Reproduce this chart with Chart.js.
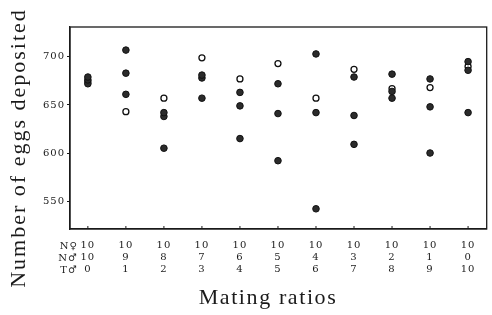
<!DOCTYPE html>
<html>
<head>
<meta charset="utf-8">
<script src="https://cdn.jsdelivr.net/npm/chart.js@4.4.0/dist/chart.umd.min.js"></script>
<style>
  html, body { margin: 0; padding: 0; background: #fff; }
</style>
</head>
<body>
<canvas id="chart" width="492" height="315"></canvas>
<script>
// --- DATA ---
// mating ratio columns, x = column index 0..10
const femalesN = [10, 10, 10, 10, 10, 10, 10, 10, 10, 10, 10];
const malesN = [10, 9, 8, 7, 6, 5, 4, 3, 2, 1, 0];
const malesT = [0, 1, 2, 3, 4, 5, 6, 7, 8, 9, 10];
const rowLabels = ['N\u2640', 'N\u2642', 'T\u2642'];

// number of eggs deposited
const openEggs   = [674, 643, 657, 699, 677, 693, 657, 687, 667, 668, 690];
const filledHigh = [679, 707, 642, 681, 663, 672, 703, 679, 682, 677, 695];
const filledMid  = [676, 683, 638, 678, 649, 641, 642, 639, 664, 648, 686];
const filledLow  = [672, 661, 605, 657, 615, 592, 542, 609, 657, 600, 642];

const yTicks = [550, 600, 650, 700];

const INK = '#1a1a1a';
const TICK_FONT = { family: 'DejaVu Serif', size: 10 };
const TITLE_FONT = '22px "Liberation Serif"';

function toPoints(arr) {
    return arr.map((v, i) => ({ x: i, y: v }));
}

function filledSet(arr) {
    return {
        data: toPoints(arr),
        pointRadius: 3.3,
        pointBorderWidth: 1,
        pointBackgroundColor: '#2b2b2b',
        pointBorderColor: '#111',
        showLine: false,
        order: 1
    };
}

// frame, inward x ticks, row labels and axis titles
const framePlugin = {
    id: 'frame',
    beforeDraw(chart) {
        chart.ctx.letterSpacing = '1px';
    },
    afterDraw(chart) {
        const { ctx, chartArea: a, scales: { x } } = chart;
        ctx.save();
        ctx.strokeStyle = INK;
        ctx.lineWidth = 1.3;
        ctx.strokeRect(a.left, a.top, a.right - a.left, a.bottom - a.top);
        ctx.beginPath();
        x.ticks.forEach(t => {
            const px = x.getPixelForValue(t.value);
            ctx.moveTo(px, a.bottom);
            ctx.lineTo(px, a.bottom - 3);
        });
        ctx.lineWidth = 1;
        ctx.stroke();

        ctx.fillStyle = INK;
        ctx.letterSpacing = '1px';
        ctx.font = TICK_FONT.size + 'px "' + TICK_FONT.family + '"';
        ctx.textAlign = 'right';
        ctx.textBaseline = 'middle';
        const x0 = x.getPixelForValue(0) - 10;
        rowLabels.forEach((lab, i) => {
            ctx.fillText(lab, x0, 246 + i * 12);
        });

        ctx.font = TITLE_FONT;
        ctx.textAlign = 'center';
        ctx.letterSpacing = '1.6px';
        ctx.fillText('Mating ratios', 268, 298);

        ctx.translate(19, 148);
        ctx.rotate(-Math.PI / 2);
        ctx.letterSpacing = '2px';
        ctx.fillText('Number of eggs deposited', 0, 0);
        ctx.restore();
    }
};

const ctx = document.getElementById('chart').getContext('2d');
new Chart(ctx, {
    type: 'scatter',
    data: {
        datasets: [
            {
                data: toPoints(openEggs),
                pointRadius: 3,
                pointBorderWidth: 1.3,
                pointBackgroundColor: '#fff',
                pointBorderColor: '#111',
                showLine: false,
                order: 2
            },
            filledSet(filledHigh),
            filledSet(filledMid),
            filledSet(filledLow)
        ]
    },
    options: {
        responsive: false,
        animation: false,
        layout: { padding: { left: 0, top: 27, right: 1, bottom: 0 } },
        plugins: {
            legend: { display: false },
            tooltip: { enabled: false }
        },
        scales: {
            x: {
                type: 'linear',
                min: -0.47,
                max: 10.49,
                afterBuildTicks: s => { s.ticks = malesT.map((_, i) => ({ value: i })); },
                afterFit: s => { s.height = 86; },
                grid: { drawOnChartArea: false, drawTicks: false },
                border: { color: INK, width: 1.3 },
                ticks: {
                    color: INK,
                    font: TICK_FONT,
                    padding: 10,
                    maxRotation: 0,
                    callback: v => [String(femalesN[v]), String(malesN[v]), String(malesT[v])]
                }
            },
            y: {
                min: 521,
                max: 731,
                afterBuildTicks: s => { s.ticks = yTicks.map(v => ({ value: v })); },
                afterFit: s => { s.width = 70; },
                grid: { drawOnChartArea: false, tickLength: 3, color: INK },
                border: { color: INK, width: 1.3 },
                ticks: { color: INK, font: TICK_FONT, padding: 2 }
            }
        }
    },
    plugins: [framePlugin]
});
</script>
</body>
</html>
